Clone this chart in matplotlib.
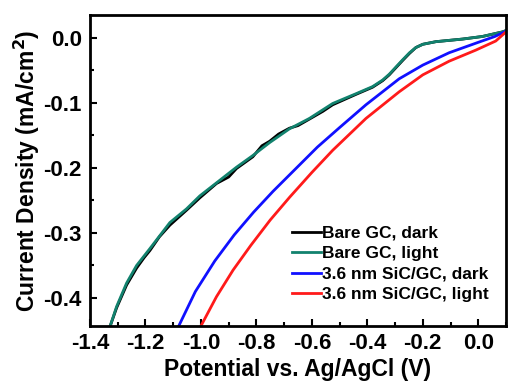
import numpy as np
import matplotlib.pyplot as plt
from matplotlib.ticker import MultipleLocator

# values
bare_light_x = [-1.328, -1.304, -1.268, -1.232, -1.184, -1.112, -1.052, -1.004, -0.944, -0.872,
                -0.813, -0.752, -0.681, -0.609, -0.525, -0.441, -0.381, -0.345, -0.321, -0.273,
                -0.248, -0.225, -0.20, -0.153, -0.057, 0.015, 0.087, 0.10]
bare_light_y = [-0.444, -0.413, -0.377, -0.350, -0.324, -0.284, -0.263, -0.243, -0.223, -0.199,
                -0.181, -0.161, -0.140, -0.124, -0.101, -0.086, -0.075, -0.065, -0.056, -0.034,
                -0.023, -0.015, -0.010, -0.006, -0.002, 0.002, 0.009, 0.011]
bare_dark_x = [-1.328, -1.304, -1.268, -1.232, -1.205, -1.184, -1.150, -1.112, -1.052, -1.004, -0.944,
               -0.900, -0.872, -0.813, -0.780, -0.752, -0.720, -0.681, -0.650, -0.609, -0.560, -0.525,
               -0.441, -0.381, -0.345, -0.321, -0.273, -0.248, -0.225, -0.20, -0.153, -0.057, 0.015,
               0.087, 0.10]
bare_dark_y = [-0.444, -0.415, -0.380, -0.354, -0.338, -0.327, -0.306, -0.288, -0.265, -0.246, -0.224,
               -0.214, -0.201, -0.183, -0.166, -0.159, -0.148, -0.139, -0.135, -0.125, -0.113, -0.103,
               -0.087, -0.076, -0.066, -0.057, -0.035, -0.024, -0.015, -0.010, -0.006, -0.002, 0.002,
               0.009, 0.011]
sic_dark_x = [-1.08, -1.02, -0.95, -0.88, -0.81, -0.74, -0.66, -0.58, -0.50, -0.405,
              -0.285, -0.20, -0.105, 0.0, 0.06, 0.10]
sic_dark_y = [-0.443, -0.390, -0.343, -0.303, -0.268, -0.236, -0.202, -0.168, -0.138, -0.103,
              -0.063, -0.042, -0.023, -0.007, 0.002, 0.010]
sic_light_x = [-1.0, -0.944, -0.884, -0.82, -0.75, -0.68, -0.60, -0.525, -0.405, -0.285,
               -0.20, -0.105, -0.009, 0.063, 0.10]
sic_light_y = [-0.443, -0.398, -0.357, -0.319, -0.280, -0.245, -0.207, -0.173, -0.124, -0.083,
               -0.057, -0.036, -0.019, -0.005, 0.009]

labels = ['Bare GC, dark', 'Bare GC, light', '3.6 nm SiC/GC, dark', '3.6 nm SiC/GC, light']
colors = ['black', '#12826e', '#1010ff', '#ff1a1a']

plt.rcParams['font.family'] = ['Liberation Sans', 'DejaVu Sans']
plt.rcParams['font.weight'] = 'bold'

fig = plt.figure(figsize=(5.08, 3.83), dpi=100)
ax = fig.add_axes([90/508, 1-326/383, 416/508, 311/383])

l1, = ax.plot(bare_dark_x, bare_dark_y, color=colors[0], lw=2, label=labels[0])
l2, = ax.plot(bare_light_x, bare_light_y, color=colors[1], lw=2, label=labels[1])
l3, = ax.plot(sic_dark_x, sic_dark_y, color=colors[2], lw=2, label=labels[2])
l4, = ax.plot(sic_light_x, sic_light_y, color=colors[3], lw=2, label=labels[3])

ax.set_xlim(-1.4, 0.1)
ax.set_ylim(-0.443, 0.035)
ax.xaxis.set_minor_locator(MultipleLocator(0.1))
ax.yaxis.set_minor_locator(MultipleLocator(0.05))
ax.set_xticks([-1.4, -1.2, -1.0, -0.8, -0.6, -0.4, -0.2, 0.0])
ax.set_xticklabels(['-1.4', '-1.2', '-1.0', '-0.8', '-0.6', '-0.4', '-0.2', '0.0'])
ax.set_yticks([0.0, -0.1, -0.2, -0.3, -0.4])
ax.set_yticklabels(['0.0', '-0.1', '-0.2', '-0.3', '-0.4'])
ax.tick_params(which='both', direction='in', width=1.5, labelsize=16, top=False, right=False)
ax.tick_params(which='major', length=5)
ax.tick_params(axis='y', which='major', pad=6)
ax.tick_params(axis='x', which='major', pad=5)
ax.tick_params(which='minor', length=3)
for s in ax.spines.values():
    s.set_linewidth(2)

ax.set_xlabel('Potential vs. Ag/AgCl (V)', fontsize=16.5, fontweight='bold', labelpad=3)
ax.set_ylabel('Current Density (mA/cm$^\\mathbf{2}$)', fontsize=16.5, fontweight='bold', labelpad=1)

ax.legend(handles=[l1, l2, l3, l4], loc='lower right', frameon=False, fontsize=12.5, handlelength=1.7,
          handletextpad=0.05, labelspacing=0.3, borderaxespad=0.0, bbox_to_anchor=(0.975, 0.055))

fig.savefig('out.png', dpi=100)
